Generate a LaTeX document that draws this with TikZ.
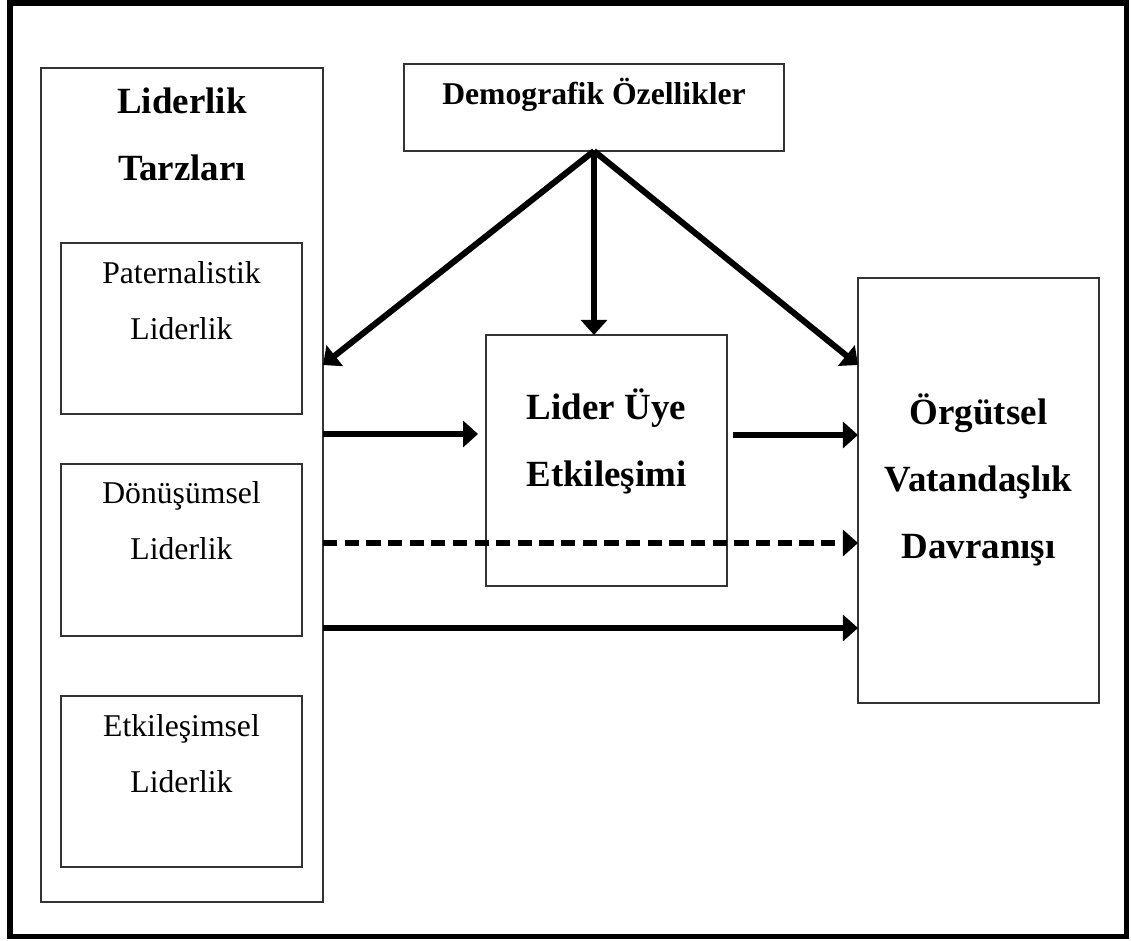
\documentclass[tikz,border=0pt]{standalone}
\usepackage{fontspec}
\setmainfont{Liberation Serif}
\usetikzlibrary{arrows.meta}
\newcommand\pxu{0.3788pt}
\begin{document}
\begin{tikzpicture}[x=0.3788pt,y=-0.3788pt,
  box/.style={draw=black!80, line width=0.45pt, inner sep=0pt, outer sep=0pt},
  normtext/.style={font=\fontsize{12}{21.1}\selectfont, align=center, anchor=base, inner sep=0pt},
  demotext/.style={font=\fontsize{12}{21.1}\selectfont\bfseries, align=center, anchor=base, inner sep=0pt},
  boldtext/.style={font=\fontsize{14}{25.2}\selectfont\bfseries, align=center, anchor=base, inner sep=0pt},
  conn/.style={line width=2.3pt, -{Triangle[length=5.7pt,width=9.8pt]}},
  dashconn/.style={line width=2pt, dash pattern=on 5.4pt off 2.8pt, -{Triangle[length=5.7pt,width=9.8pt]}},
]
\useasboundingbox (0,0) rectangle (1131,940);
% outer frame
\node[draw, line width=1.9pt, inner sep=0pt, outer sep=0pt,
      minimum width=1116*\pxu, minimum height=933*\pxu] (frame) at (568,469.5) {};
% left group
\node[box, minimum width=282*\pxu, minimum height=834*\pxu] (lt) at (182,485) {};
\node[box, minimum width=241*\pxu, minimum height=171*\pxu] (pat) at (181.5,328.5) {};
\node[box, minimum width=241*\pxu, minimum height=172*\pxu] (don) at (181.5,550) {};
\node[box, minimum width=241*\pxu, minimum height=171*\pxu] (etk) at (181.5,781.5) {};
% other boxes
\node[box, minimum width=380*\pxu, minimum height=87*\pxu] (demo) at (594,107.5) {};
\node[box, minimum width=241*\pxu, minimum height=251*\pxu] (lue) at (606.5,460.5) {};
\node[box, minimum width=241*\pxu, minimum height=425*\pxu] (ovd) at (978.5,490.5) {};
% texts (anchor=base is the baseline of the last line)
\node[boldtext] (ltt) at (182,180) {Liderlik\\Tarzları};
\node[demotext] (demot) at (594,105) {Demografik Özellikler};
\node[normtext] (patt) at (181.5,339) {Paternalistik\\Liderlik};
\node[normtext] (dont) at (181.5,559) {Dönüşümsel\\Liderlik};
\node[normtext] (etkt) at (181.5,792) {Etkileşimsel\\Liderlik};
\node[boldtext] (luet) at (606.5,486) {Lider Üye\\Etkileşimi};
\node[boldtext] (ovdt) at (978.5,558) {Örgütsel\\Vatandaşlık\\Davranışı};
% connectors
\draw[conn] (demo.south) -- (lt.east |- 0,365);
\draw[conn] (demo.south) -- (lue.north -| demo.south);
\draw[conn] (demo.south) -- (ovd.west |- 0,365);
\draw[conn, shorten >=3pt] (lt.east |- 0,434) -- (lue.west |- 0,434);
\draw[conn, shorten <=2.3pt] (lue.east |- 0,435) -- (ovd.west |- 0,435);
\draw[dashconn] (lt.east |- 0,543) -- (ovd.west |- 0,543);
\draw[conn] (lt.east |- 0,628) -- (ovd.west |- 0,628);
\end{tikzpicture}
\end{document}
